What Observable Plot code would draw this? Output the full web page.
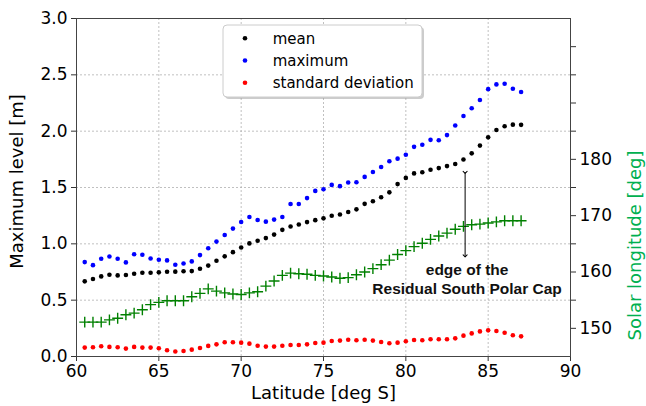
<!DOCTYPE html>
<html><head><meta charset="utf-8">
<script src="https://cdn.jsdelivr.net/npm/d3@7"></script>
<script src="https://cdn.jsdelivr.net/npm/@observablehq/plot@0.6"></script>
<style>
html,body{margin:0;padding:0;background:#fff;}
#chart svg{font-family:"DejaVu Sans",sans-serif;}
</style></head><body><div id="chart"></div>
<script>
const latitude = [60.5,61,61.5,62,62.5,63,63.5,64,64.5,65,65.5,66,66.5,67,67.5,68,68.5,69,69.5,70,70.5,71,71.5,72,72.5,73,73.5,74,74.5,75,75.5,76,76.5,77,77.5,78,78.5,79,79.5,80,80.5,81,81.5,82,82.5,83,83.5,84,84.5,85,85.5,86,86.5,87];
const meanLevel = [0.667,0.688,0.711,0.726,0.720,0.723,0.735,0.744,0.744,0.747,0.752,0.753,0.756,0.758,0.779,0.807,0.850,0.889,0.926,0.967,1.004,1.027,1.051,1.082,1.124,1.154,1.172,1.193,1.210,1.226,1.249,1.261,1.283,1.306,1.355,1.378,1.414,1.457,1.530,1.585,1.625,1.635,1.658,1.672,1.690,1.708,1.749,1.803,1.872,1.945,2.010,2.043,2.058,2.056];
const maxLevel = [0.838,0.811,0.868,0.888,0.868,0.835,0.908,0.903,0.870,0.859,0.853,0.815,0.826,0.844,0.900,0.961,1.020,1.079,1.135,1.194,1.238,1.212,1.197,1.215,1.238,1.353,1.353,1.406,1.470,1.485,1.523,1.512,1.544,1.547,1.594,1.638,1.682,1.733,1.756,1.791,1.861,1.879,1.923,1.920,1.965,2.050,2.135,2.203,2.276,2.373,2.415,2.421,2.377,2.347];
const stdLevel = [0.079,0.082,0.091,0.085,0.082,0.070,0.085,0.079,0.079,0.073,0.055,0.044,0.049,0.061,0.076,0.094,0.108,0.126,0.126,0.123,0.114,0.096,0.088,0.088,0.096,0.102,0.102,0.108,0.120,0.123,0.138,0.141,0.149,0.144,0.149,0.141,0.129,0.117,0.123,0.135,0.146,0.144,0.153,0.153,0.153,0.161,0.185,0.205,0.223,0.232,0.226,0.211,0.188,0.179];
const solarLongitude = [151.1,151.1,151.1,151.5,151.8,152.4,152.7,153.3,154.2,154.6,154.9,154.9,154.9,155.6,156.2,157.0,156.6,156.3,156.1,156.0,156.3,156.5,157.5,158.4,159.4,159.8,159.7,159.6,159.4,159.3,159.1,158.9,159.0,159.5,160.0,160.6,161.3,162.1,163.1,163.8,164.5,165.1,165.8,166.4,166.9,167.6,168.1,168.4,168.5,168.7,168.9,169.1,169.1,169.1];

const xTicks = [60,65,70,75,80,85,90];
const xGrid = [65,70,75,80,85];
const yTicks = [0,0.5,1,1.5,2,2.5,3];
const yGrid = [0.5,1,1.5,2,2.5];
const lsTicks = [150,155,160,165,170,175,180,185,190,195,200];
const lsLabels = [150,160,170,180];
const lsDomain = [145,205];
const yDomain = [0,3];
const xDomain = [60,90];

const legendLabels = ["mean","maximum","standard deviation"];
const legendColors = ["black","blue","red"];
const annotationText = ["edge of the","Residual South Polar Cap"];
const annotationTextLat = [83.72,83.72];
const annotationTextY = [0.766,0.596];
const arrowLat = [83.6];
const arrowTop = [1.635];
const arrowBottom = [0.893];

const titles = {x:"Latitude [deg S]", y:"Maximum level [m]", y2:"Solar longitude [deg]"};

const toLeft = s => (s - lsDomain[0]) / (lsDomain[1] - lsDomain[0]) * (yDomain[1] - yDomain[0]) + yDomain[0];
const fromLeft = v => (v - yDomain[0]) / (yDomain[1] - yDomain[0]) * (lsDomain[1] - lsDomain[0]) + lsDomain[0];

const rows = latitude.map((lat,i) => ({lat, mean: meanLevel[i], max: maxLevel[i], std: stdLevel[i], ls: toLeft(solarLongitude[i])}));

const fs = 17;
const chart = Plot.plot({
  width: 646, height: 406,
  marginLeft: 76, marginRight: 76, marginTop: 18, marginBottom: 50,
  x: {domain: xDomain},
  y: {domain: yDomain},
  style: {fontFamily: "DejaVu Sans, sans-serif", background: "white"},
  marks: [
    Plot.gridX(xGrid, {stroke: "#b0b0b0", strokeOpacity: 1, strokeDasharray: "2,2", strokeWidth: 0.8}),
    Plot.gridY(yGrid, {stroke: "#b0b0b0", strokeOpacity: 1, strokeDasharray: "2,2", strokeWidth: 0.8}),
    Plot.axisX(xTicks, {tickSize: 5, tickPadding: 3, fontSize: fs, label: null, stroke: "#333", fill: "black"}),
    Plot.axisY(yTicks, {tickSize: 5, tickPadding: 4, fontSize: fs, label: null, tickFormat: d3.format(".1f"), stroke: "#333", fill: "black"}),
    Plot.axisY(lsTicks.map(toLeft), {anchor: "right", tickSize: 5, tickPadding: 4, fontSize: fs, label: null, stroke: "#333", fill: "black",
      tickFormat: v => { const s = Math.round(fromLeft(v)); return lsLabels.includes(s) ? String(s) : ""; }}),
    Plot.frame({stroke: "#444", strokeWidth: 1}),
    Plot.dot(rows, {x: "lat", y: "ls", symbol: "plus", r: 3.6, stroke: "green", strokeWidth: 1.4}),
    Plot.dot(rows, {x: "lat", y: "mean", r: 2.3, fill: "black"}),
    Plot.dot(rows, {x: "lat", y: "max", r: 2.3, fill: "blue"}),
    Plot.dot(rows, {x: "lat", y: "std", r: 2.3, fill: "red"}),
    Plot.link(arrowLat, {x1: d => d, x2: d => d, y1: (d,i) => arrowTop[i], y2: (d,i) => arrowBottom[i], markerStart: "arrow", markerEnd: "arrow", stroke: "black", strokeWidth: 1}),
    Plot.text(annotationText, {x: (d,i) => annotationTextLat[i], y: (d,i) => annotationTextY[i], text: d => d, fontFamily: "Liberation Sans, Arial, sans-serif", fontWeight: "bold", fontSize: 15.5, fill: "#111"}),
    Plot.text([titles.x], {frameAnchor: "bottom", dy: 37, fontSize: 18, textAnchor: "middle", lineAnchor: "middle", fill: "black"}),
    Plot.text([titles.y], {frameAnchor: "left", dx: -59, dy: -6, rotate: -90, fontSize: 18, textAnchor: "middle", lineAnchor: "middle", fill: "black"}),
    Plot.text([titles.y2], {frameAnchor: "right", dx: 65, dy: 58, rotate: -90, fontSize: 18, textAnchor: "middle", lineAnchor: "middle", fill: "#00b050"})
  ]
});
document.getElementById("chart").appendChild(chart);

// legend inside the axes (upper middle)
const svg = d3.select(chart);
const lg = svg.append("g").attr("transform", "translate(223,25)");
lg.append("rect").attr("x", 2).attr("y", 2).attr("width", 199).attr("height", 72).attr("rx", 4).attr("fill", "#999").attr("opacity", 0.5);
lg.append("rect").attr("width", 199).attr("height", 72).attr("rx", 4).attr("fill", "white").attr("stroke", "#ccc");
legendLabels.forEach((lab, i) => {
  const yy = 13.3 + i * 22.2;
  lg.append("circle").attr("cx", 22).attr("cy", yy).attr("r", 2.3).attr("fill", legendColors[i]);
  lg.append("text").attr("x", 49.7).attr("y", yy).attr("dy", "0.35em").attr("text-anchor", "start").attr("font-size", 15).attr("fill", "black").text(lab);
});
</script>
</body></html>
